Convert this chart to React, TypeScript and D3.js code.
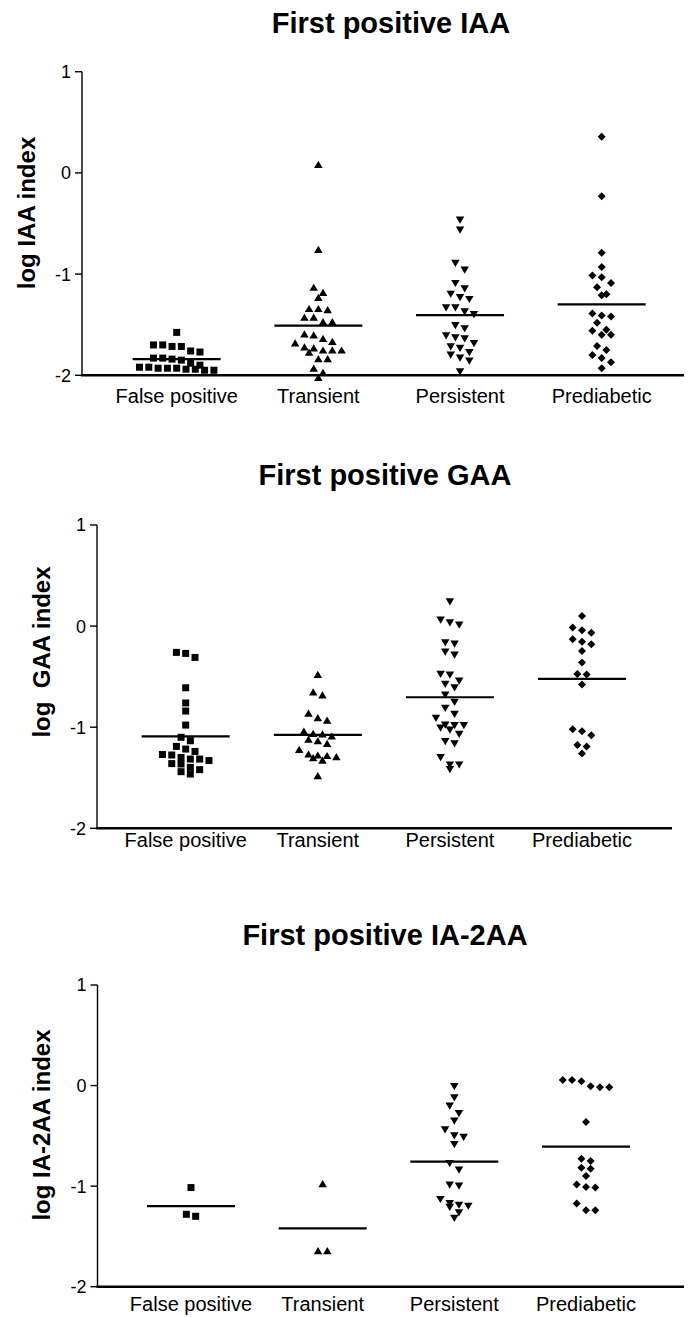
import React from "react";
import * as d3 from "d3";

// ---------- data ----------
const categories = ["False positive", "Transient", "Persistent", "Prediabetic"];
const yTickValues = [1, 0, -1, -2];
const titles = ["First positive IAA", "First positive GAA", "First positive IA-2AA"];
const yAxisLabels = ["log IAA index", "log  GAA index", "log IA-2AA index"];

const iaaFalsePositive = [-1.576, -1.7, -1.715, -1.7, -1.715, -1.76, -1.77, -1.83, -1.84, -1.83, -1.85, -1.88, -1.9,
  -1.92, -1.94, -1.93, -1.95, -1.92, -1.94, -1.93, -1.95, -1.93];
const iaaTransient = [0.085, -0.755, -1.13, -1.18, -1.23, -1.34, -1.35, -1.34, -1.425, -1.425, -1.47, -1.47, -1.6, -1.59,
  -1.635, -1.665, -1.68, -1.75, -1.75, -1.72, -1.73, -1.75, -1.77, -1.835, -1.835, -1.93, -1.97, -2.02];
const iaaPersistent = [-0.467, -0.566, -0.895, -0.961, -1.093, -1.146, -1.199, -1.251, -1.232, -1.334, -1.373, -1.334,
  -1.4, -1.51, -1.54, -1.61, -1.63, -1.64, -1.686, -1.735, -1.72, -1.775, -1.83, -1.8, -1.86, -1.966];
const iaaPrediabetic = [0.356, -0.23, -0.79, -0.93, -1.014, -1.03, -1.087, -1.13, -1.2, -1.21, -1.41, -1.42, -1.39,
  -1.48, -1.55, -1.6, -1.6, -1.56, -1.71, -1.75, -1.8, -1.83, -1.87, -1.93];

const gaaFalsePositive = [-0.26, -0.27, -0.31, -0.61, -0.76, -0.84, -0.979, -1.1, -1.134, -1.19, -1.216, -1.24, -1.27,
  -1.275, -1.3, -1.315, -1.315, -1.33, -1.36, -1.364, -1.397, -1.42, -1.44, -1.463];
const gaaTransient = [-0.478, -0.65, -0.68, -0.86, -0.906, -0.93, -1.038, -1.06, -1.067, -1.087, -1.117, -1.134, -1.16,
  -1.22, -1.265, -1.275, -1.28, -1.29, -1.3, -1.325, -1.48];
const gaaPersistent = [0.24, 0.06, 0.033, 0.01, -0.165, -0.178, -0.257, -0.287, -0.478, -0.484, -0.544, -0.577, -0.61,
  -0.682, -0.755, -0.814, -0.873, -0.913, -0.979, -0.985, -0.985, -1.01, -1.03, -1.07, -1.143, -1.166, -1.3, -1.374,
  -1.374, -1.42];
const gaaPrediabetic = [0.1, -0.013, -0.04, -0.066, -0.13, -0.155, -0.18, -0.247, -0.36, -0.474, -0.478, -0.577, -1.02,
  -1.04, -1.08, -1.176, -1.19, -1.26];

const ia2FalsePositive = [-1.014, -1.28, -1.3];
const ia2Transient = [-0.975, -1.642, -1.642];
const ia2Persistent = [-0.01, -0.122, -0.205, -0.28, -0.353, -0.44, -0.5, -0.515, -0.588, -0.776, -0.84, -0.99, -1.0,
  -1.133, -1.173, -1.19, -1.2, -1.212, -1.265, -1.32];
const ia2Prediabetic = [0.056, 0.056, 0.043, -0.007, -0.017, -0.017, -0.363, -0.727, -0.75, -0.816, -0.826, -0.9,
  -0.985, -1.008, -1.014, -1.173, -1.24, -1.24];

const panelSeries = [
  [iaaFalsePositive, iaaTransient, iaaPersistent, iaaPrediabetic],
  [gaaFalsePositive, gaaTransient, gaaPersistent, gaaPrediabetic],
  [ia2FalsePositive, ia2Transient, ia2Persistent, ia2Prediabetic],
];

// ---------- layout ----------
const W = 689;
const H = 1317;
const FONT = "'Liberation Sans', Arial, Helvetica, sans-serif";

const layouts = [
  { axisX: 82, xEnd: 684, yTop: 71.7, yBot: 375.3, c0: 176.7, c1: 601.7, titleX: 391, titleY: 33, catY: 403, ylX: 35, ylY: 213 },
  { axisX: 97, xEnd: 672, yTop: 525, yBot: 828.3, c0: 185.7, c1: 582, titleX: 385, titleY: 485, catY: 846.7, ylX: 50, ylY: 652 },
  { axisX: 97.5, xEnd: 684, yTop: 985, yBot: 1286.7, c0: 191, c1: 586, titleX: 385, titleY: 945, catY: 1311, ylX: 50, ylY: 1125 },
];

// ---------- symbols ----------
const symSquare = { draw(ctx: any, w: number) { const h = w / 2; ctx.rect(-h, -h, w, w); } };
const symTriUp = {
  draw(ctx: any, w: number) {
    const h = w * 0.85;
    ctx.moveTo(0, -h / 2); ctx.lineTo(w / 2, h / 2); ctx.lineTo(-w / 2, h / 2); ctx.closePath();
  },
};
const symTriDown = {
  draw(ctx: any, w: number) {
    const h = w * 0.85;
    ctx.moveTo(0, h / 2); ctx.lineTo(w / 2, -h / 2); ctx.lineTo(-w / 2, -h / 2); ctx.closePath();
  },
};
const symDiamond = {
  draw(ctx: any, w: number) {
    const r = w / 2;
    ctx.moveTo(0, -r); ctx.lineTo(r, 0); ctx.lineTo(0, r); ctx.lineTo(-r, 0); ctx.closePath();
  },
};
const symbolTypes = [symSquare, symTriUp, symTriDown, symDiamond];
const symbolSizes = [7, 8.5, 8.5, 8];

// Column-scatter layout: points whose y positions fall within one row height are
// spread horizontally, centred on the category.
function columnScatter(values: number[], y: (v: number) => number, rowH: number) {
  const sorted = [...values].sort((a, b) => b - a);
  const rows: number[][] = [];
  let current: number[] = [];
  let rowStart = 0;
  for (const v of sorted) {
    const py = y(v);
    if (current.length === 0) {
      current = [v];
      rowStart = py;
    } else if (py - rowStart < rowH) {
      current.push(v);
    } else {
      rows.push(current);
      current = [v];
      rowStart = py;
    }
  }
  if (current.length) rows.push(current);
  const out: { off: number; py: number }[] = [];
  rows.forEach((r) => {
    r.forEach((v, i) => out.push({ off: i - (r.length - 1) / 2, py: y(v) }));
  });
  return out;
}

function Panel({ idx }: { idx: number }) {
  const L = layouts[idx];
  const series = panelSeries[idx];
  const y = d3.scaleLinear().domain([1, -2]).range([L.yTop, L.yBot]);
  const x = d3.scalePoint<string>().domain(categories).range([L.c0, L.c1]);
  const colStep = 9.3;
  const meanHalf = 44;

  return (
    <g>
      <text x={L.titleX} y={L.titleY} textAnchor="middle" fontFamily={FONT} fontWeight="bold" fontSize={29} fill="#000">
        {titles[idx]}
      </text>
      <text
        transform={`translate(${L.ylX},${L.ylY}) rotate(-90)`}
        textAnchor="middle"
        fontFamily={FONT}
        fontWeight="bold"
        fontSize={24}
        fill="#000"
        style={{ whiteSpace: "pre" }}
      >
        {yAxisLabels[idx]}
      </text>
      {/* y axis */}
      <line x1={L.axisX} x2={L.axisX} y1={y(1)} y2={y(-2)} stroke="#000" strokeWidth={1.4} />
      {yTickValues.map((t) => (
        <g key={t}>
          <line x1={L.axisX - 7} x2={L.axisX} y1={y(t)} y2={y(t)} stroke="#000" strokeWidth={1.4} />
          <text x={L.axisX - 11} y={y(t)} dy="0.36em" textAnchor="end" fontFamily={FONT} fontSize={18} fill="#000">
            {String(t)}
          </text>
        </g>
      ))}
      {/* x axis */}
      <line x1={L.axisX - 1} x2={L.xEnd} y1={y(-2)} y2={y(-2)} stroke="#000" strokeWidth={2.4} />
      {categories.map((c) => (
        <text key={c} x={x(c)} y={L.catY} textAnchor="middle" fontFamily={FONT} fontSize={20} fill="#000">
          {c}
        </text>
      ))}
      {/* points and means */}
      {categories.map((c, ci) => {
        const vals = series[ci];
        const cx = x(c) as number;
        const pts = columnScatter(vals, (v) => y(v), 7.8);
        const sym = d3.symbol().type(symbolTypes[ci] as any).size(symbolSizes[ci]);
        const m = d3.mean(vals) as number;
        return (
          <g key={c}>
            {pts.map((p, i) => (
              <path key={i} d={sym() as string} transform={`translate(${cx + p.off * colStep},${p.py})`} fill="#000" />
            ))}
            <line x1={cx - meanHalf} x2={cx + meanHalf} y1={y(m)} y2={y(m)} stroke="#000" strokeWidth={2.2} />
          </g>
        );
      })}
    </g>
  );
}

export default function App() {
  return (
    <svg
      width={W}
      height={H}
      viewBox={`0 0 ${W} ${H}`}
      style={{ position: "absolute", left: 0, top: 0, background: "#fff", display: "block" }}
    >
      <rect x={0} y={0} width={W} height={H} fill="#fff" />
      {[0, 1, 2].map((i) => (
        <Panel key={i} idx={i} />
      ))}
    </svg>
  );
}
